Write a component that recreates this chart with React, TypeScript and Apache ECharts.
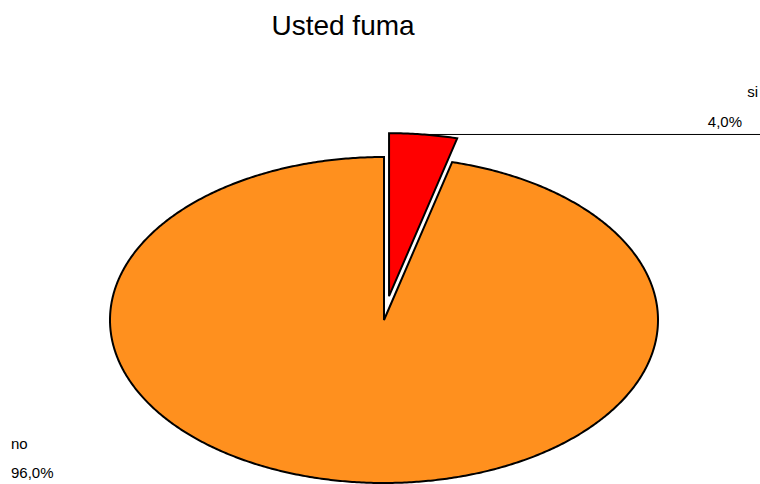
import React, { useEffect, useRef } from "react";
import * as echarts from "echarts";

const TITLE = "Usted fuma";
const categories = ["si", "no"];
const values = [4.0, 96.0];
const percentLabels = ["4,0%", "96,0%"];
const sliceColors = ["#FF0000", "#FF901E"];
const explodeBy = [24, 0];

const CX = 384;
const CY = 320;
const RX = 274;
const RY = 163;

function sliceAngles(idx: number) {
  const total = values.reduce((a, b) => a + b, 0);
  let cum = 0;
  for (let i = 0; i < idx; i++) cum += values[i];
  const a0 = (cum / total) * Math.PI * 2;
  const a1 = ((cum + values[idx]) / total) * Math.PI * 2;
  const mid = (a0 + a1) / 2;
  const e = explodeBy[idx];
  const dx = e * Math.sin(mid) * (RX / RY);
  const dy = -e * Math.cos(mid);
  return { a0, a1, mid, dx, dy };
}

function ellipsePoint(t: number, dx: number, dy: number) {
  return [CX + RX * Math.sin(t) + dx, CY - RY * Math.cos(t) + dy];
}

export default function App() {
  const ref = useRef<HTMLDivElement>(null);
  useEffect(() => {
    if (!ref.current) return;
    const chart = echarts.init(ref.current, undefined, { renderer: "svg" });
    const si = sliceAngles(0);
    const leaderStart = ellipsePoint(si.mid, si.dx, si.dy);
    const font = "Arial, 'Liberation Sans', sans-serif";
    const labelFont = `15px ${font}`;
    chart.setOption({
      animation: false,
      backgroundColor: "#FFFFFF",
      graphic: [
        {
          type: "text",
          x: 343,
          y: 25,
          style: {
            text: TITLE,
            font: `28px ${font}`,
            fill: "#000",
            textAlign: "center",
            textVerticalAlign: "middle",
          },
        },
        {
          type: "line",
          z: 1,
          shape: { x1: leaderStart[0], y1: leaderStart[1], x2: 760, y2: leaderStart[1] },
          style: { stroke: "#000", lineWidth: 1 },
        },
        {
          type: "text",
          x: 758,
          y: 91,
          style: { text: categories[0], font: labelFont, fill: "#000", textAlign: "right", textVerticalAlign: "middle" },
        },
        {
          type: "text",
          x: 742,
          y: 121,
          style: { text: percentLabels[0], font: labelFont, fill: "#000", textAlign: "right", textVerticalAlign: "middle" },
        },
        {
          type: "text",
          x: 11,
          y: 443,
          style: { text: categories[1], font: labelFont, fill: "#000", textAlign: "left", textVerticalAlign: "middle" },
        },
        {
          type: "text",
          x: 11,
          y: 472,
          style: { text: percentLabels[1], font: labelFont, fill: "#000", textAlign: "left", textVerticalAlign: "middle" },
        },
      ],
      series: [
        {
          type: "custom",
          coordinateSystem: "none",
          z: 5,
          data: values.map((v, i) => ({ name: categories[i], value: v })),
          renderItem: (params: any) => {
            const idx = params.dataIndex;
            const { a0, a1, dx, dy } = sliceAngles(idx);
            const steps = Math.max(8, Math.ceil(((a1 - a0) / (Math.PI * 2)) * 720));
            const pts: number[][] = [[CX + dx, CY + dy]];
            for (let s = 0; s <= steps; s++) {
              const t = a0 + ((a1 - a0) * s) / steps;
              pts.push(ellipsePoint(t, dx, dy));
            }
            return {
              type: "polygon",
              shape: { points: pts },
              style: {
                fill: sliceColors[idx],
                stroke: "#000",
                lineWidth: 2,
                lineJoin: "miter",
              },
            };
          },
        },
      ],
    });
    return () => chart.dispose();
  }, []);
  return (
    <div
      ref={ref}
      style={{ position: "fixed", left: 0, top: 0, width: 760, height: 484 }}
    />
  );
}
